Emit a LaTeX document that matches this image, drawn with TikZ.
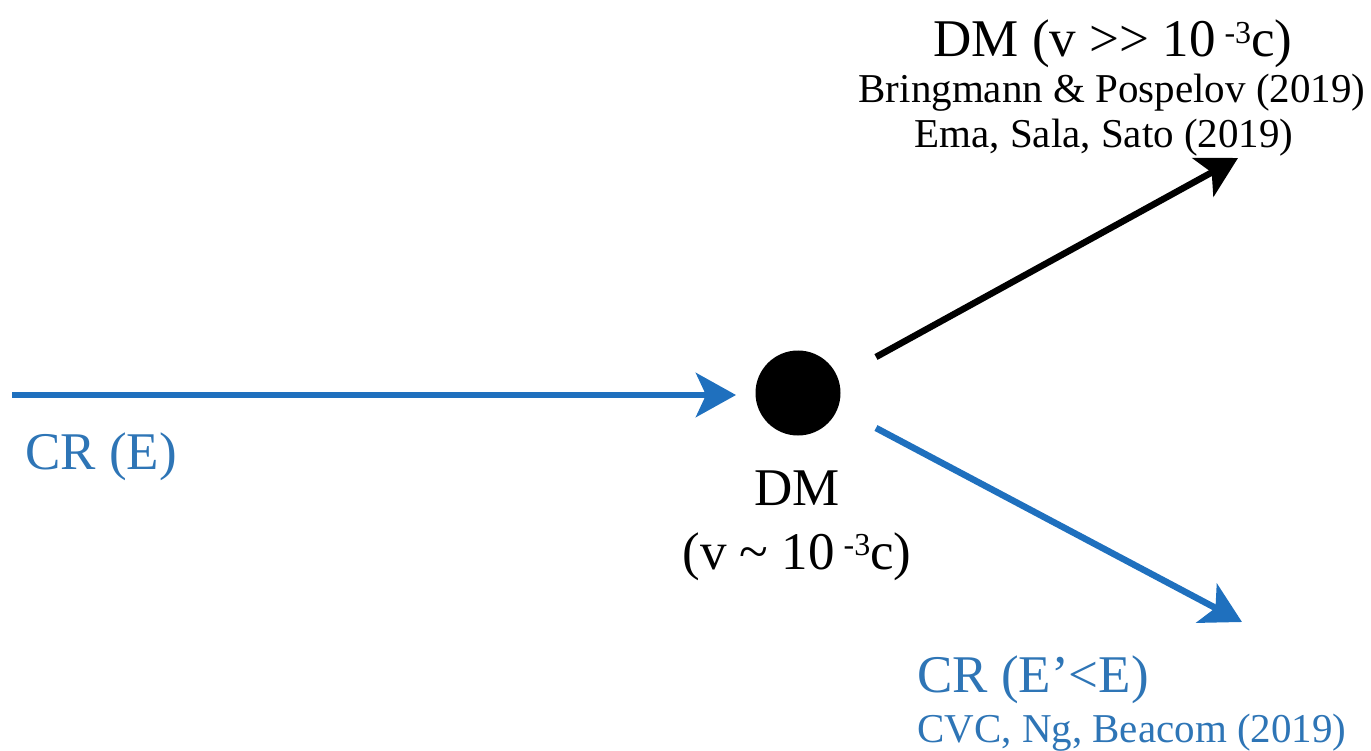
\documentclass[tikz,border=0pt]{standalone}
\usepackage{fontspec}
\setmainfont{Liberation Serif}
\usetikzlibrary{arrows.meta}
\definecolor{lineblue}{RGB}{31,112,190}
\definecolor{textblue}{RGB}{46,117,182}
\newcommand{\mysup}[1]{\raisebox{0.55ex}{\fontsize{32}{32}\selectfont #1}}
\tikzset{
  big/.style={font=\fontsize{53}{60}\selectfont, inner sep=0pt},
  small/.style={font=\fontsize{41}{48}\selectfont, inner sep=0pt},
  arr/.style={line width=6.5pt, -{Stealth[length=40pt,width=44pt,inset=10pt]}},
}
\begin{document}
\begin{tikzpicture}[x=1pt,y=-1pt]
\useasboundingbox (0,0) rectangle (1371,751);
\node[circle, fill=black, minimum size=85pt, inner sep=0pt] (dm) at (798,393) {};
\coordinate (inL) at (12,395);
\coordinate (inR) at (736,395);
\coordinate (upS) at (876,357);
\coordinate (upE) at (1238,158);
\coordinate (dnS) at (876,428);
\coordinate (dnE) at (1242,622);
\draw[arr, lineblue] (inL) -- (inR);
\draw[arr, black] (upS) -- (upE);
\draw[arr, lineblue] (dnS) -- (dnE);
\node[big, text=textblue, anchor=base west] (cre) at (25,469) {CR (E)};
\node[big, anchor=base] (dmlab) at (797,505) {DM};
\node[big, anchor=base] (dmv) at (797,569) {(v \textasciitilde\ 10\,\mysup{-3}c)};
\node[big, anchor=base] (dmfast) at (1113,57) {DM (v >{}> 10\,\mysup{-3}c)};
\node[small, anchor=base] (ref1) at (1112,103) {Bringmann \& Pospelov (2019)};
\node[small, anchor=base] (ref2) at (1104,148) {Ema, Sala, Sato (2019)};
\node[big, text=textblue, anchor=base west] (crp) at (917,692) {CR (E\textquoteright<E)};
\node[small, text=textblue, anchor=base west] (ref3) at (917,742) {CVC, Ng, Beacom (2019)};
\end{tikzpicture}
\end{document}
